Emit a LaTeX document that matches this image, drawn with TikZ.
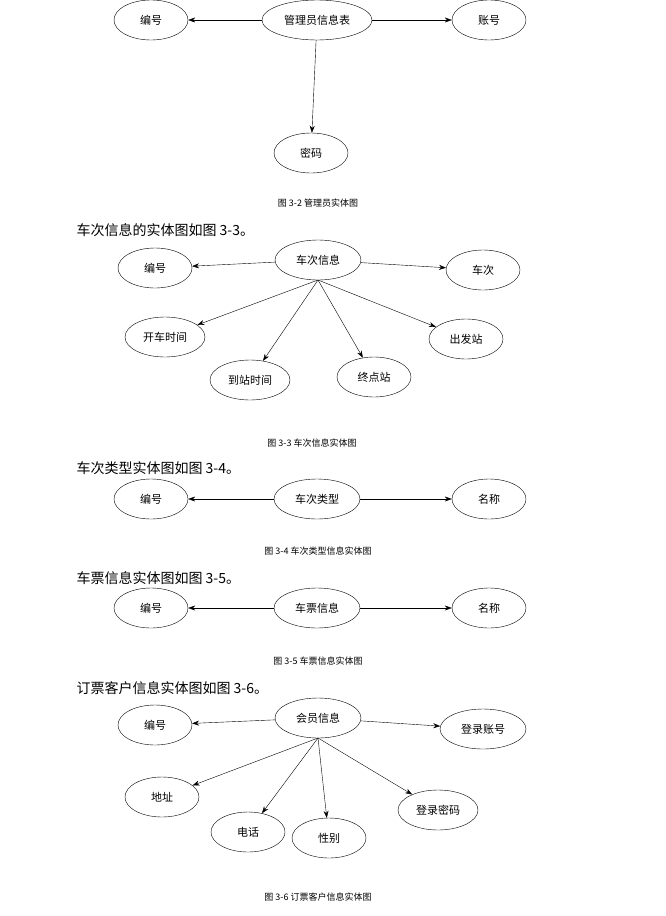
\documentclass[tikz,border=0pt]{standalone}
\usepackage{fontspec}
\setmainfont{Noto Sans CJK SC}
\usetikzlibrary{arrows.meta,shapes.geometric}
\begin{document}
\begin{tikzpicture}[x=1pt,y=-1pt,
  ent/.style={draw,ellipse,minimum width=74pt,minimum height=40pt,inner sep=0pt,font=\fontsize{11}{12}\selectfont},
  wide/.style={ent,minimum width=86pt},
  figcap/.style={font=\fontsize{9}{10}\selectfont},
  para/.style={anchor=west,font=\fontsize{14}{16}\selectfont},
  arr/.style={-{Stealth[length=7pt,width=5pt]},thin}]
\useasboundingbox (0,0) rectangle (665,916);
% 3-2
\node[ent] (a1) at (151,20) {编号};
\node[ent,minimum width=110pt] (a0) at (317,20) {管理员信息表};
\node[ent] (a2) at (489,20) {账号};
\node[ent] (a3) at (311,153) {密码};
\draw[arr] (a0) -- (a1);
\draw[arr] (a0) -- (a2);
\draw[arr] (a0) -- (a3);
\node[figcap] (c2) at (318,203) {图 3-2 管理员实体图};
\node[para] (p3) at (73,230) {车次信息的实体图如图 3-3。};
% 3-3
\node[wide] (b0) at (318,260) {车次信息};
\node[ent] (b1) at (155,268) {编号};
\node[ent] (b2) at (483,270) {车次};
\node[wide,minimum width=80pt] (b3) at (165,337) {开车时间};
\node[ent] (b4) at (466,339) {出发站};
\node[wide,minimum width=80pt] (b5) at (250,380) {到站时间};
\node[ent] (b6) at (374,377) {终点站};
\coordinate (bb) at (318,280);
\draw[arr] (b0) -- (b1);
\draw[arr] (b0) -- (b2);
\draw[arr] (bb) -- (b3);
\draw[arr] (bb) -- (b4);
\draw[arr] (bb) -- (b5);
\draw[arr] (bb) -- (b6);
\node[figcap] (c3) at (312,443) {图 3-3 车次信息实体图};
\node[para] (p4) at (73,468) {车次类型实体图如图 3-4。};
% 3-4
\node[ent] (d1) at (151,499) {编号};
\node[wide] (d0) at (317,499) {车次类型};
\node[ent] (d2) at (489,499) {名称};
\draw[arr] (d0) -- (d1);
\draw[arr] (d0) -- (d2);
\node[figcap] (c4) at (318,551) {图 3-4 车次类型信息实体图};
\node[para] (p5) at (73,578) {车票信息实体图如图 3-5。};
% 3-5
\node[ent] (e1) at (151,608) {编号};
\node[wide] (e0) at (317,608) {车票信息};
\node[ent] (e2) at (489,608) {名称};
\draw[arr] (e0) -- (e1);
\draw[arr] (e0) -- (e2);
\node[figcap] (c5) at (318,661) {图 3-5 车票信息实体图};
\node[para] (p6) at (73,688) {订票客户信息实体图如图 3-6。};
% 3-6
\node[wide] (f0) at (318,718) {会员信息};
\node[ent] (f1) at (155,725) {编号};
\node[wide] (f2) at (483,729) {登录账号};
\node[ent] (f3) at (162,797) {地址};
\node[wide,minimum width=80pt] (f4) at (438,810) {登录密码};
\node[ent] (f5) at (248,832) {电话};
\node[ent] (f6) at (329,838) {性别};
\coordinate (fb) at (318,738);
\draw[arr] (f0) -- (f1);
\draw[arr] (f0) -- (f2);
\draw[arr] (fb) -- (f3);
\draw[arr] (fb) -- (f4);
\draw[arr] (fb) -- (f5);
\draw[arr] (fb) -- (f6);
\node[figcap] (c6) at (318,897) {图 3-6 订票客户信息实体图};
\end{tikzpicture}
\end{document}
